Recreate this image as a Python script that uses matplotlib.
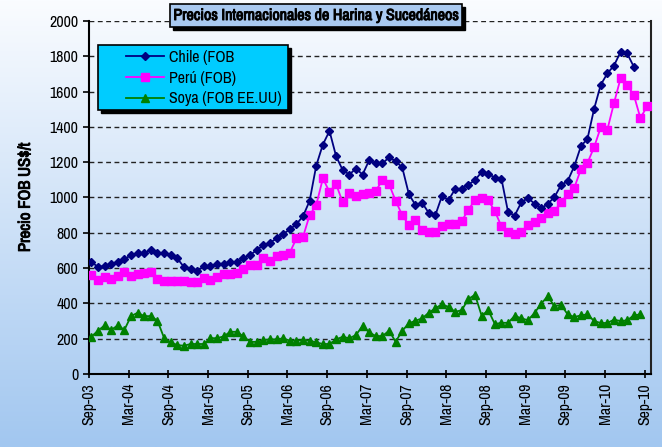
import numpy as np
import matplotlib
matplotlib.use("Agg")
import matplotlib.pyplot as plt
from matplotlib.patches import Rectangle
import matplotlib.patheffects as pe

plt.rcParams['font.family'] = ['Archivo Narrow', 'Liberation Sans', 'DejaVu Sans']

tick_labels = ["Sep-03", "Mar-04", "Sep-04", "Mar-05", "Sep-05", "Mar-06", "Sep-06",
               "Mar-07", "Sep-07", "Mar-08", "Sep-08", "Mar-09", "Sep-09", "Mar-10", "Sep-10"]

chile = [633, 608, 610, 626, 634, 650, 674, 683, 683, 705, 684, 683, 672, 655, 606,
         596, 582, 612, 612, 622, 626, 633, 633, 657, 674, 702, 730, 743, 768, 793,
         819, 849, 894, 981, 1181, 1300, 1377, 1234, 1155, 1130, 1164, 1130, 1211, 1193,
         1193, 1227, 1206, 1170, 1019, 957, 970, 913, 900, 1008, 986, 1048, 1050, 1073,
         1098, 1145, 1135, 1112, 1105, 917, 898, 973, 997, 965, 938, 964, 1002, 1070,
         1093, 1177, 1290, 1333, 1502, 1638, 1703, 1747, 1825, 1816, 1741, None, None]

peru = [562, 533, 548, 537, 555, 580, 555, 566, 574, 580, 538, 529, 528, 528, 525,
        523, 523, 545, 532, 548, 566, 567, 574, 596, 618, 618, 655, 642, 666, 674,
        687, 768, 777, 900, 957, 1108, 1032, 1076, 972, 1026, 1008, 1021, 1028, 1038,
        1098, 1076, 981, 900, 843, 872, 815, 806, 806, 836, 851, 851, 868, 930,
        987, 995, 985, 922, 836, 807, 796, 804, 844, 860, 885, 914, 922, 973,
        1018, 1055, 1159, 1196, 1285, 1397, 1384, 1534, 1675, 1638, 1581, 1450, 1516]

soya = [211, 245, 275, 250, 275, 250, 328, 347, 328, 328, 302, 204, 179, 164, 160,
        170, 170, 170, 203, 203, 213, 239, 239, 213, 182, 182, 192, 196, 196, 202,
        189, 189, 192, 189, 179, 170, 170, 196, 211, 202, 221, 272, 236, 215,
        215, 245, 183, 245, 287, 302, 315, 347, 372, 395, 380, 352, 362, 425,
        449, 330, 361, 283, 290, 290, 330, 315, 305, 346, 399, 440, 384, 392,
        338, 323, 332, 338, 300, 289, 289, 308, 300, 304, 332, 338, None]

def arr(v):
    return np.array([np.nan if a is None else a for a in v], dtype=float)

W, H = 662, 447
fig = plt.figure(figsize=(W / 100, H / 100), dpi=100)

def fx(px):
    return px / W

def fy(py):
    return 1 - py / H

bold_fx = [pe.withStroke(linewidth=0.7, foreground='black')]

# background gradient
bg = fig.add_axes([0, 0, 1, 1], zorder=-10)
grad = np.linspace(0, 1, 256).reshape(-1, 1)
top = np.array([250, 252, 255]) / 255
bot = np.array([162, 199, 240]) / 255
img = top[None, None, :] * (1 - grad[:, :, None]) + bot[None, None, :] * grad[:, :, None]
bg.imshow(img, aspect='auto', extent=[0, 1, 0, 1])
bg.set_axis_off()

ax = fig.add_axes([fx(89), fy(374), fx(651 - 89), (374 - 21) / H])
ax.patch.set_alpha(0)

n = len(peru)
x = np.arange(n)
ax.plot(x, arr(chile), color='#000080', marker='D', markersize=4.2, lw=1.3,
        label='Chile (FOB', zorder=5)
ax.plot(x, arr(peru), color='#ff00ff', marker='s', markersize=6, lw=1.3,
        label='Perú (FOB)', zorder=4)
ax.plot(x, arr(soya), color='#008000', marker='^', markersize=5.5, lw=1.3,
        label='Soya (FOB EE.UU)', zorder=3)

off = 0.35
ax.set_xlim(-off, 84.6)
ax.set_xticks(np.arange(0, 85, 6) - off)
ax.set_xticklabels(tick_labels, rotation=90, fontsize=11.5)
ax.set_ylim(0, 2000)
ax.set_yticks(np.arange(0, 2001, 200))
ax.tick_params(axis='y', labelsize=11.5, direction='out', length=4, width=1.2)
ax.tick_params(axis='x', direction='inout', length=6, width=1.2)
for yv in range(200, 2001, 200):
    ax.axhline(yv, color='#222222', lw=1.0, ls=(0, (3.5, 2.5)), zorder=1)
for s in ['left', 'bottom', 'right']:
    ax.spines[s].set_linewidth(1.5)
    ax.spines[s].set_color('black')
ax.spines['right'].set_color('#222222')
ax.spines['top'].set_visible(False)

yl = ax.set_ylabel('Precio FOB US$/t', fontsize=12, labelpad=12)
yl.set_path_effects(bold_fx)

# legend box with shadow
lx0, ly0, lw_, lh_ = 98, 45, 190, 65
sh = Rectangle((fx(lx0 + 3), fy(ly0 + lh_ + 3)), fx(lw_), lh_ / H,
               transform=fig.transFigure, facecolor='black', edgecolor='black',
               zorder=20, clip_on=False)
bx = Rectangle((fx(lx0), fy(ly0 + lh_)), fx(lw_), lh_ / H,
               transform=fig.transFigure, facecolor='#00ccff', edgecolor='black', lw=1.2,
               zorder=21, clip_on=False)
ax.add_patch(sh)
ax.add_patch(bx)
leg = ax.legend(loc='upper left', bbox_to_anchor=(fx(122), fy(46)),
                bbox_transform=fig.transFigure, frameon=False, fontsize=11.5,
                handlelength=2.4, handletextpad=0.3, labelspacing=0.35, borderaxespad=0,
                borderpad=0.25)
leg.set_zorder(22)

# title box with shadow
tb_x0, tb_y0, tb_w, tb_h = 170, 4, 292, 23
fig.add_artist(Rectangle((fx(tb_x0 + 3), fy(tb_y0 + tb_h + 3)), fx(tb_w), tb_h / H,
                         transform=fig.transFigure, facecolor='black', edgecolor='black',
                         zorder=30))
fig.add_artist(Rectangle((fx(tb_x0), fy(tb_y0 + tb_h)), fx(tb_w), tb_h / H,
                         transform=fig.transFigure, facecolor='#a9c9f0', edgecolor='black',
                         lw=1.2, zorder=31))
t = fig.text(fx(tb_x0 + tb_w / 2), fy(tb_y0 + tb_h / 2),
             'Precios Internacionales de Harina y Sucedáneos',
             ha='center', va='center', fontsize=11.5, color='black', zorder=32)
t.set_path_effects(bold_fx)

fig.savefig('out.png', dpi=100)
